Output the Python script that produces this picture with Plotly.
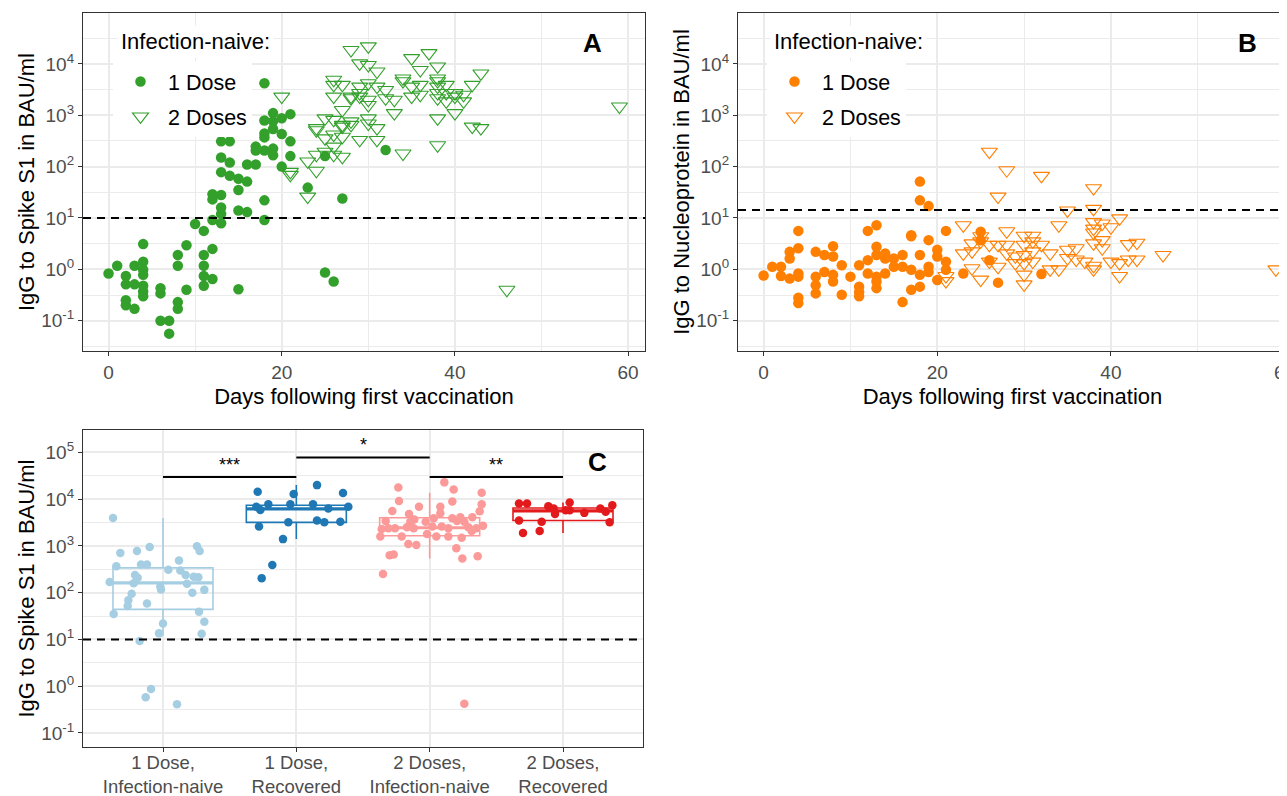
import numpy as np
import plotly.graph_objects as go

# ---------------- Panel A: IgG to Spike S1 vs days (infection-naive) ----------------
a1_day = [0,
          1,
          2, 2, 2, 2,
          3, 3, 3,
          4, 4, 4, 4, 4, 4, 4,
          6, 6, 6,
          7, 7,
          8, 8, 8, 8,
          9, 9,
          10,
          11, 11, 11, 11, 11,
          12, 12, 12, 12, 12,
          13, 13, 13, 13, 13, 13, 13,
          14, 14, 14,
          15, 15, 15, 15,
          16, 16, 16,
          17, 17, 17,
          18, 18, 18, 18, 18, 18, 18,
          19, 19, 19, 19, 19,
          20, 20, 20,
          21, 21, 21,
          23, 25, 25, 26, 27, 32]
a1_val = [0.83,
          1.17,
          0.74, 0.51, 0.25, 0.20,
          1.17, 0.51, 0.17,
          3.1, 1.4, 0.98, 0.78, 0.48, 0.37, 0.30,
          0.43, 0.34, 0.10,
          0.10, 0.056,
          1.9, 1.17, 0.23, 0.17,
          2.95, 0.40,
          7.6,
          5.6, 1.9, 1.17, 0.74, 0.48,
          2.5, 0.65, 9.1, 29, 23,
          310, 150, 78, 28, 16, 12, 7.9,
          310, 120, 66,
          58, 35, 14, 0.41,
          110, 51, 13,
          245, 205, 110,
          4200, 790, 440, 370, 205, 22, 9.1,
          1100, 760, 540, 224, 166,
          870, 430, 100,
          1050, 310, 160,
          39, 160, 0.87, 0.58, 24, 210]

a2_day = [20,
          21, 21,
          23, 23,
          24, 24, 24, 24,
          25, 25, 25,
          26, 26, 26, 26, 26, 26, 26,
          27, 27, 27, 27, 27, 27,
          28, 28, 28, 28, 28,
          29, 29, 29, 29, 29,
          30, 30, 30, 30, 30, 30, 30,
          31, 31, 31, 31,
          32, 32,
          33, 33,
          34, 34, 34,
          35, 35, 35,
          36, 36, 36,
          37,
          38, 38, 38, 38, 38, 38, 38, 38,
          39, 39, 39,
          40, 40, 40,
          41, 41,
          42, 42,
          43, 43,
          46, 59]
a2_val = [2300,
          79, 69,
          126, 26,
          510, 170, 83, 560,
          195, 355, 870,
          4900, 3900, 2300, 810, 420, 245, 170,
          3900, 1260, 600, 380, 155, 650,
          18600, 2140, 760, 650, 2300,
          10200, 3600, 2300, 330, 2700,
          21900, 9500, 4200, 2000, 1580, 870, 690,
          7100, 3600, 560, 330,
          3100, 2140,
          2000, 1100,
          5200, 4600, 180,
          12900, 3600, 2300,
          7600, 3900, 2500,
          16200,
          8900, 5200, 4600, 3600, 2700, 2140, 870, 260,
          3900, 2700, 1860,
          2300, 1100, 2700,
          2500, 1860,
          3900, 600,
          6500, 560,
          0.40, 1480]

# ---------------- Panel B: IgG to Nucleoprotein vs days ----------------
b1_day = [0,
          1,
          2, 2,
          3, 3, 3,
          4, 4, 4, 4, 4, 4,
          6, 6, 6, 6,
          7, 7,
          8, 8, 8, 8,
          9, 9,
          10,
          11, 11, 11, 11,
          12, 12, 12,
          13, 13, 13, 13, 13, 13,
          14, 14, 14,
          15, 15,
          16, 16, 16,
          17, 17, 17, 17,
          18, 18, 18, 18, 18,
          19, 19, 19, 19,
          20, 20, 20,
          21, 21, 21,
          23, 25, 25, 26, 27, 32]
b1_val = [0.76,
          1.12,
          1.12, 0.74,
          2.19, 1.62, 0.66,
          5.6, 2.57, 0.83, 0.72, 0.28, 0.22,
          2.19, 0.72, 0.49, 0.34,
          1.9, 0.89,
          2.82, 1.78, 0.78, 0.58,
          1.2, 0.32,
          0.72,
          1.2, 0.46, 0.36, 0.30,
          5.6, 1.51, 0.83,
          7.2, 2.75, 1.9, 0.72, 0.58, 0.43,
          2.04, 1.62, 0.83,
          1.62, 1.12,
          1.9, 1.12, 0.23,
          4.6, 4.4, 0.98, 0.40,
          51, 22, 1.9, 0.78, 0.46,
          17, 3.7, 1.12, 0.89,
          2.4, 1.78, 0.62,
          5.6, 1.41, 0.98,
          0.83, 5.4, 3.7, 1.51, 0.55, 0.81]

b2_day = [21, 21,
          23, 23,
          24, 24, 24,
          25, 25, 25,
          26, 26, 26,
          27, 27, 27,
          28, 28, 28, 28,
          29, 29,
          30, 30, 30, 30, 30, 30,
          31, 31, 31, 31,
          32, 32,
          33, 33,
          34, 34,
          35, 35, 35,
          36, 36,
          37,
          38, 38, 38, 38, 38, 38, 38, 38,
          39, 39, 39,
          40, 40,
          41, 41, 41,
          42, 42,
          43, 43,
          46, 59]
b2_val = [0.74, 0.59,
          7.2, 2.04,
          3.2, 2.24, 1.05,
          3.5, 4.4, 0.63,
          195, 3.0, 1.41,
          26, 3.0, 1.12,
          85, 5.5, 3.0, 2.04,
          1.78, 1.32,
          4.5, 3.0, 1.9, 1.32, 0.79, 0.51,
          4.5, 3.5, 2.24, 1.41,
          66, 3.0,
          2.04, 1.0,
          7.2, 1.0,
          14, 2.4, 1.66,
          2.57, 1.55,
          1.41,
          38, 15, 8.3, 6.2, 5.2, 3.2, 1.17, 1.0,
          7.8, 3.7, 2.57,
          6.6, 1.41,
          9.8, 0.74, 1.32,
          3.1, 1.55,
          3.3, 1.55,
          1.9, 1.0]

# ---------------- Panel C: groups (jittered position, value) ----------------
c_labels = ["1 Dose,<br>Infection-naive", "1 Dose,<br>Recovered",
            "2 Doses,<br>Infection-naive", "2 Doses,<br>Recovered"]
c_colors = ["#A6CEE3", "#1F78B4", "#FB9A99", "#E31A1C"]

c1_pos = [0.625, 0.68, 0.805, 0.90, 0.65, 0.835, 0.88, 1.04, 1.12, 1.13, 1.255, 1.275,
          0.60, 0.79, 0.81, 0.78, 0.985, 0.98, 1.17, 1.18, 1.23, 1.265, 1.31, 1.22,
          0.765, 0.74, 0.735, 0.88, 0.63, 1.27, 1.31, 1.00, 0.97, 1.29, 0.825,
          0.91, 0.87, 1.105]
c1_val = [3980, 710, 780, 950, 370, 400, 400, 310, 490, 300, 980, 780,
          170, 240, 210, 160, 117, 135, 240, 155, 220, 215, 115, 100,
          95, 69, 52, 59, 35, 39, 24, 22, 13.5, 13.2, 9.3,
          0.87, 0.58, 0.41]

c2_pos = [1.71, 1.98, 2.155, 2.35, 1.70, 1.73, 1.79, 1.955, 2.125, 2.24, 2.39,
          1.94, 2.155, 2.21, 2.33, 1.72, 1.90, 1.82, 1.74]
c2_val = [14500, 12900, 20000, 13500, 6900, 5900, 7800, 7800, 7800, 6300, 6900,
          3200, 3500, 3200, 3300, 2600, 1400, 390, 205]

c3_pos = [3.11, 2.765, 3.18, 3.39, 2.77, 3.17, 3.39, 2.72, 2.92, 3.08, 3.375, 2.845,
          3.08, 2.885, 3.17, 3.23, 3.32, 2.67, 2.855, 3.03, 2.97, 3.205, 3.26, 3.40,
          2.64, 2.69, 2.74, 2.83, 2.88, 3.02, 3.09, 3.14, 3.29, 3.35,
          2.63, 2.79, 2.98, 3.05, 3.14, 3.24, 3.315, 2.84, 2.90, 3.20,
          2.70, 2.73, 3.245, 3.36, 2.65, 3.26]
c3_val = [22900, 17800, 16200, 13800, 9100, 8900, 7800, 5600, 6900, 6900, 5500, 4800,
          5000, 3700, 3900, 4100, 4100, 3400, 3300, 3900, 3300, 3400, 3300, 2700,
          2300, 2400, 2400, 2500, 2400, 2600, 2600, 2400, 2500, 2400,
          1600, 1600, 1800, 1600, 1600, 1500, 2100, 1100, 1050, 890,
          630, 660, 540, 600, 250, 0.42]

c4_pos = [3.67, 3.73, 4.05, 4.37, 3.89, 3.93, 4.02, 4.05, 4.28, 4.32, 4.16, 3.94,
          3.67, 3.84, 4.35, 3.70, 3.825]
c4_val = [8100, 8100, 8500, 7400, 7100, 6300, 5800, 5800, 6300, 5400, 5100, 4800,
          3500, 3300, 3200, 1900, 2100]

# box statistics (log-scale boxplots)
box_q1 = [44, 3200, 1650, 3500]
box_med = [162, 6200, 2450, 5600]
box_q3 = [340, 7400, 4000, 6500]
box_lo = [12, 1400, 540, 1900]
box_hi = [3980, 20000, 13800, 8500]

# significance brackets
sig_from = [1, 2, 3]
sig_to = [2, 3, 4]
sig_y = [30000, 78000, 30000]
sig_text = ["***", "*", "**"]

thresholds = [10, 14.3, 10]   # dashed lines for A, B, C

# ---------------- styling ----------------
FONT = "Liberation Sans, Arial, sans-serif"
W, H = 1287, 796
OFF = 8                       # page body margin in the browser
FW, FH = W - OFF, H - OFF     # figure size
GREEN = "#33A02C"
ORANGE = "#FF7F00"
GRID = "#EBEBEB"
FRAME = "#333333"
TICKC = "#4D4D4D"


def px_dom_x(a, b):
    return [(a - OFF) / FW, min((b - OFF) / FW, 1.0)]


def px_dom_y(top, bottom):
    return [1 - (bottom - OFF) / FH, 1 - (top - OFF) / FH]


def paper_x(px):
    return (px - OFF) / FW


def paper_y(py):
    return 1 - (py - OFF) / FH


fig = go.Figure()

# Panel A
fig.add_trace(go.Scatter(x=a1_day, y=a1_val, mode="markers", name="1 Dose",
                         marker=dict(symbol="circle", size=10.5, color=GREEN),
                         xaxis="x", yaxis="y", legend="legend", legendgroup="a1"))
fig.add_trace(go.Scatter(x=a2_day, y=a2_val, mode="markers", name="2 Doses",
                         marker=dict(symbol="triangle-down-open", size=14, color=GREEN,
                                     line=dict(width=1.1, color=GREEN)),
                         xaxis="x", yaxis="y", legend="legend", legendgroup="a2"))
# Panel B
fig.add_trace(go.Scatter(x=b1_day, y=b1_val, mode="markers", name="1 Dose",
                         marker=dict(symbol="circle", size=10.5, color=ORANGE),
                         xaxis="x2", yaxis="y2", legend="legend2", legendgroup="b1"))
fig.add_trace(go.Scatter(x=b2_day, y=b2_val, mode="markers", name="2 Doses",
                         marker=dict(symbol="triangle-down-open", size=14, color=ORANGE,
                                     line=dict(width=1.1, color=ORANGE)),
                         xaxis="x2", yaxis="y2", legend="legend2", legendgroup="b2"))

# Panel C boxes
box_width = 0.75
for i in range(4):
    fig.add_trace(go.Box(x=[i + 1], q1=[box_q1[i]], median=[box_med[i]], q3=[box_q3[i]],
                         lowerfence=[box_lo[i]], upperfence=[box_hi[i]],
                         width=box_width, whiskerwidth=0, boxpoints=False,
                         line=dict(color=c_colors[i], width=1.6),
                         fillcolor="rgba(255,255,255,0)", showlegend=False,
                         hoverinfo="skip", xaxis="x3", yaxis="y3"))
    fig.add_trace(go.Scatter(x=[i + 1 - box_width / 2, i + 1 + box_width / 2],
                             y=[box_med[i], box_med[i]], mode="lines",
                             line=dict(color=c_colors[i], width=3.2),
                             showlegend=False, hoverinfo="skip", xaxis="x3", yaxis="y3"))

c_pos = [c1_pos, c2_pos, c3_pos, c4_pos]
c_val = [c1_val, c2_val, c3_val, c4_val]
for i in range(4):
    fig.add_trace(go.Scatter(x=c_pos[i], y=c_val[i], mode="markers",
                             marker=dict(size=8.5, color=c_colors[i]),
                             showlegend=False, xaxis="x3", yaxis="y3"))

# significance brackets
for f, t, yv, txt in zip(sig_from, sig_to, sig_y, sig_text):
    fig.add_trace(go.Scatter(x=[f, t], y=[yv, yv], mode="lines",
                             line=dict(color="black", width=2),
                             showlegend=False, hoverinfo="skip", xaxis="x3", yaxis="y3"))
    fig.add_annotation(x=(f + t) / 2, y=np.log10(yv), xref="x3", yref="y3",
                       text=txt, showarrow=False, xanchor="center", yanchor="bottom", yshift=0,
                       font=dict(family=FONT, size=18, color="black"))

# dashed thresholds
for (xr, yr), thr in zip([("x", "y"), ("x2", "y2"), ("x3", "y3")], thresholds):
    fig.add_shape(type="line", xref=f"{xr} domain", yref=yr, x0=0, x1=1, y0=thr, y1=thr,
                  line=dict(color="black", width=2, dash="8px,6px"))

# panel letters
for letter, lx, ly in [("A", 592, 43), ("B", 1247, 43), ("C", 597, 462)]:
    fig.add_annotation(xref="paper", yref="paper", x=paper_x(lx), y=paper_y(ly),
                       xanchor="center", yanchor="middle",
                       text=f"<b>{letter}</b>", showarrow=False,
                       font=dict(family=FONT, size=26, color="black"))

# legend titles (white background like the ggplot legend box)
for lx in [117, 770]:
    fig.add_annotation(xref="paper", yref="paper", x=paper_x(lx), y=paper_y(42),
                       xanchor="left", yanchor="middle", text="Infection-naive:",
                       showarrow=False, bgcolor="white", borderpad=3,
                       font=dict(family=FONT, size=22, color="black"))


# axes
def log_ticks(kmin, kmax):
    vals = [10.0 ** k for k in range(kmin, kmax + 1)]
    txt = [f"10<sup>{k}</sup>" for k in range(kmin, kmax + 1)]
    minor = [10.0 ** (k + 0.5) for k in range(kmin - 1, kmax + 1)]
    return vals, txt, minor


common_axis = dict(showline=True, mirror=True, linecolor=FRAME, linewidth=1.2,
                   ticks="outside", ticklen=4, tickcolor=FRAME, tickwidth=1.1,
                   showgrid=True, gridcolor=GRID, gridwidth=1.6, zeroline=False,
                   automargin=False,
                   tickfont=dict(family=FONT, size=19, color=TICKC))
title_font = dict(family=FONT, size=22, color="black")

yv, yt, ym = log_ticks(-1, 4)
day_axis = dict(common_axis, tickvals=[0, 20, 40, 60],
                minor=dict(tickvals=[10, 30, 50], showgrid=True, gridcolor=GRID, gridwidth=1.0, ticks=""))

fig.update_layout(
    xaxis=dict(day_axis, domain=px_dom_x(83, 645), range=[-2.95, 61.95], anchor="y",
               title=dict(text="Days following first vaccination", font=title_font, standoff=6)),
    yaxis=dict(common_axis, type="log", domain=px_dom_y(13, 351), range=[-1.59, 4.99], anchor="x",
               tickvals=yv, ticktext=yt,
               minor=dict(tickvals=ym, showgrid=True, gridcolor=GRID, gridwidth=1.0, ticks=""),
               title=dict(text="IgG to Spike S1 in BAU/ml", font=title_font, standoff=0)),
    xaxis2=dict(day_axis, domain=px_dom_x(738, 1287), range=[-2.95, 60.28], anchor="y2",
                ticklabeloverflow="allow",
                title=dict(text="Days following first vaccination", font=title_font, standoff=6)),
    yaxis2=dict(common_axis, type="log", domain=px_dom_y(13, 351), range=[-1.59, 4.99], anchor="x2",
                tickvals=yv, ticktext=yt,
                minor=dict(tickvals=ym, showgrid=True, gridcolor=GRID, gridwidth=1.0, ticks=""),
                title=dict(text="IgG to Nucleoprotein in BAU/ml", font=title_font, standoff=0)),
)

yv3, yt3, ym3 = log_ticks(-1, 5)
fig.update_layout(
    xaxis3=dict(common_axis, domain=px_dom_x(83, 643), range=[0.4, 4.6], anchor="y3",
                tickvals=[1, 2, 3, 4], ticktext=c_labels, ticklabelstandoff=-5,
                tickfont=dict(family=FONT, size=18.5, color=TICKC)),
    yaxis3=dict(common_axis, type="log", domain=px_dom_y(430, 747), range=[-1.30, 5.48], anchor="x3",
                tickvals=yv3, ticktext=yt3,
                minor=dict(tickvals=ym3, showgrid=True, gridcolor=GRID, gridwidth=1.0, ticks=""),
                title=dict(text="IgG to Spike S1 in BAU/ml", font=title_font, standoff=0)),
)

legend_common = dict(bgcolor="white", xanchor="left", yanchor="top",
                     font=dict(family=FONT, size=21.5, color="black"),
                     tracegroupgap=4, itemwidth=45)
fig.update_layout(
    legend=dict(legend_common, x=paper_x(113), y=paper_y(61)),
    legend2=dict(legend_common, x=paper_x(767), y=paper_y(61)),
)

fig.update_layout(width=FW, height=FH, margin=dict(l=0, r=0, t=0, b=0, autoexpand=False),
                  paper_bgcolor="white", plot_bgcolor="white",
                  font=dict(family=FONT), showlegend=True)

fig.write_html("out.html")
